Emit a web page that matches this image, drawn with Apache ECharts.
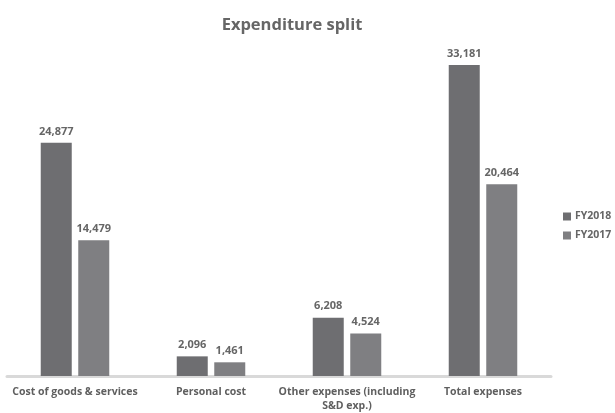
<!DOCTYPE html>
<html>
<head>
<meta charset="utf-8">
<script src="https://cdn.jsdelivr.net/npm/echarts@6/dist/echarts.min.js"></script>
<style>html,body{margin:0;padding:0;background:#fff}#c{width:615px;height:413px}</style>
</head>
<body>
<div id="c"></div>
<script>
const categories = ["Cost of goods & services", "Personal cost", "Other expenses (including\nS&D exp.)", "Total expenses"];
const fy2018 = [24877, 2096, 6208, 33181];
const fy2017 = [14479, 1461, 4524, 20464];
const seriesNames = ["FY2018", "FY2017"];

const font = "Open Sans";
const chart = echarts.init(document.getElementById('c'), null, {renderer: 'canvas'});
const lbl = {
  show: true, position: 'top', distance: 6,
  formatter: p => p.value.toLocaleString('en-US'),
  fontFamily: font, fontWeight: 'bold', fontSize: 11, color: '#666666'
};
chart.setOption({
  animation: false,
  title: {
    text: 'Expenditure split', left: 287, top: 12, textAlign: 'center',
    textStyle: {fontFamily: font, fontWeight: 'bold', fontSize: 16.5, color: '#666666'}
  },
  legend: {
    orient: 'vertical', left: 563, top: 211, itemWidth: 8, itemHeight: 8, itemGap: 8,
    padding: 0, icon: 'rect',
    textStyle: {fontFamily: font, fontWeight: 'bold', fontSize: 10.5, color: '#666666', padding: [0,0,0,-1]},
    data: seriesNames
  },
  grid: {left: 7, width: 544, top: 48, bottom: 37},
  xAxis: {
    type: 'category', data: categories,
    axisLine: {lineStyle: {color: '#d9d9d9', width: 3}},
    axisTick: {show: false},
    axisLabel: {fontFamily: font, fontWeight: 'bold', fontSize: 10.5, color: '#5f5f5f', margin: 9, lineHeight: 14, interval: 0}
  },
  yAxis: {type: 'value', min: 0, max: 35000, show: false, splitLine: {show: false}},
  series: [
    {name: seriesNames[0], type: 'bar', data: fy2018, barWidth: 31, barGap: '21%',
     itemStyle: {color: '#6e6e71'}, label: lbl},
    {name: seriesNames[1], type: 'bar', data: fy2017, barWidth: 31,
     itemStyle: {color: '#7f7f82'}, label: lbl}
  ]
});
</script>
</body>
</html>
